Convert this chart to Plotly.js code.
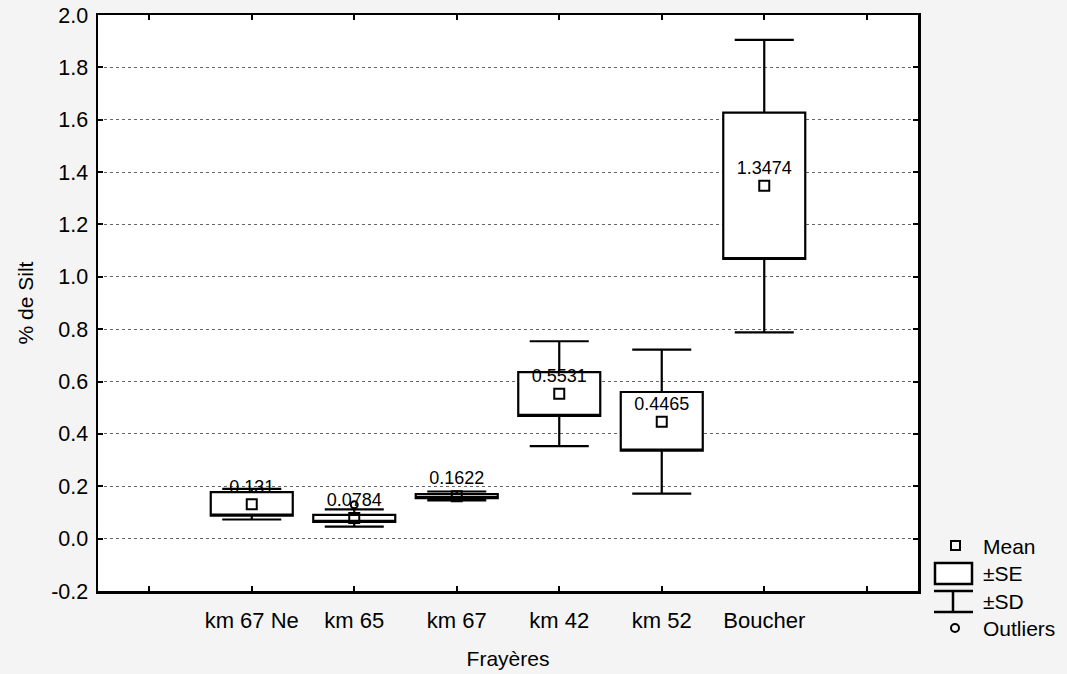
<!DOCTYPE html>
<html>
<head>
<meta charset="utf-8">
<script src="https://cdn.plot.ly/plotly-3.0.1.min.js"></script>
<style>html,body{margin:0;padding:0;background:#f4f4f4;}#chart{width:1067px;height:674px;}</style>
</head>
<body>
<div id="chart"></div>
<script>
// ---- data ----
var categories = ['km 67 Ne', 'km 65', 'km 67', 'km 42', 'km 52', 'Boucher'];
var positions = [1, 2, 3, 4, 5, 6];
var means = [0.131, 0.0784, 0.1622, 0.5531, 0.4465, 1.3474];
var seLow = [0.088, 0.064, 0.155, 0.469, 0.336, 1.068];
var seHigh = [0.178, 0.091, 0.170, 0.636, 0.560, 1.627];
var sdLow = [0.073, 0.046, 0.146, 0.353, 0.172, 0.788];
var sdHigh = [0.190, 0.112, 0.180, 0.754, 0.722, 1.905];
var meanLabels = ['0.131', '0.0784', '0.1622', '0.5531', '0.4465', '1.3474'];
var outlierX = [2];
var outlierY = [0.129];
var yTicks = [-0.2, 0.0, 0.2, 0.4, 0.6, 0.8, 1.0, 1.2, 1.4, 1.6, 1.8, 2.0];
var yTickLabels = ['-0.2', '0.0', '0.2', '0.4', '0.6', '0.8', '1.0', '1.2', '1.4', '1.6', '1.8', '2.0'];

// ---- layout helpers ----
var W = 1067, H = 674;
var M = {l: 98, r: 149, t: 15, b: 83};
function px(x) { return (x - M.l) / (W - M.l - M.r); }
function py(y) { return (H - M.b - y) / (H - M.t - M.b); }
var FONT = '"Liberation Sans", Arial, Helvetica, sans-serif';

var traces = [
  {
    type: 'box',
    x: positions,
    q1: seLow,
    median: seLow,
    q3: seHigh,
    lowerfence: sdLow,
    upperfence: sdHigh,
    width: 0.8,
    whiskerwidth: 0.72,
    fillcolor: '#ffffff',
    line: {color: '#000000', width: 2.2},
    boxpoints: false,
    hoverinfo: 'skip',
    showlegend: false
  },
  {
    type: 'scatter',
    mode: 'markers',
    x: outlierX,
    y: outlierY,
    marker: {symbol: 'circle-open', size: 7, color: '#000', line: {width: 2, color: '#000'}},
    showlegend: false
  },
  {
    type: 'scatter',
    mode: 'markers+text',
    x: positions,
    y: means,
    text: meanLabels,
    textposition: 'top center',
    textfont: {family: FONT, size: 18, color: '#000'},
    marker: {symbol: 'square-open', size: 10, color: '#000', line: {width: 2, color: '#000'}},
    showlegend: false
  }
];

var legendShapes = [
  {type: 'rect', xref: 'paper', yref: 'paper', x0: px(951), x1: px(960), y0: py(550), y1: py(541), line: {color: '#000', width: 2}},
  {type: 'rect', xref: 'paper', yref: 'paper', x0: px(935), x1: px(972), y0: py(584), y1: py(563), line: {color: '#000', width: 2.5}, fillcolor: '#ffffff'},
  {type: 'line', xref: 'paper', yref: 'paper', x0: px(934), x1: px(973), y0: py(591), y1: py(591), line: {color: '#000', width: 2.5}},
  {type: 'line', xref: 'paper', yref: 'paper', x0: px(953), x1: px(953), y0: py(591), y1: py(612), line: {color: '#000', width: 2.5}},
  {type: 'line', xref: 'paper', yref: 'paper', x0: px(934), x1: px(973), y0: py(612), y1: py(612), line: {color: '#000', width: 2.5}},
  {type: 'circle', xref: 'paper', yref: 'paper', x0: px(951), x1: px(959), y0: py(632), y1: py(624), line: {color: '#000', width: 2}}
];
var legendTexts = ['Mean', '\u00b1SE', '\u00b1SD', 'Outliers'];
var legendY = [546, 573, 601, 628];
var legendAnn = legendTexts.map(function (t, i) {
  return {text: t, xref: 'paper', yref: 'paper', x: px(981), y: py(legendY[i]), xanchor: 'left', yanchor: 'middle',
          showarrow: false, font: {family: FONT, size: 21, color: '#000'}};
});

var layout = {
  width: W, height: H,
  margin: M,
  paper_bgcolor: '#f4f4f4',
  plot_bgcolor: '#ffffff',
  font: {family: FONT, size: 21, color: '#000'},
  showlegend: false,
  xaxis: {
    range: [-0.5, 7.5],
    tickvals: [0, 1, 2, 3, 4, 5, 6, 7],
    ticktext: [''].concat(categories).concat(['']),
    ticks: 'inside', ticklen: 5, tickwidth: 2, tickcolor: '#000',
    showline: true, linewidth: 2.5, linecolor: '#000', mirror: 'allticks',
    showgrid: false, zeroline: false,
    tickfont: {family: FONT, size: 22, color: '#000'},
    ticklabelstandoff: 8,
    title: {text: 'Frayères', font: {family: FONT, size: 21, color: '#000'}, standoff: 20}
  },
  yaxis: {
    range: [-0.2, 2.0],
    tickvals: yTicks,
    ticktext: yTickLabels,
    ticks: 'inside', ticklen: 5, tickwidth: 2, tickcolor: '#000',
    showline: true, linewidth: 2.5, linecolor: '#000', mirror: 'allticks',
    showgrid: true, gridcolor: '#666', griddash: 'dot', gridwidth: 1,
    zeroline: false,
    tickfont: {family: FONT, size: 21.5, color: '#000'},
    ticklabelstandoff: 3,
    title: {text: '% de Silt', font: {family: FONT, size: 21, color: '#000'}, standoff: 12}
  },
  shapes: legendShapes,
  annotations: legendAnn
};

Plotly.newPlot('chart', traces, layout, {displayModeBar: false, staticPlot: true});
</script>
</body>
</html>
